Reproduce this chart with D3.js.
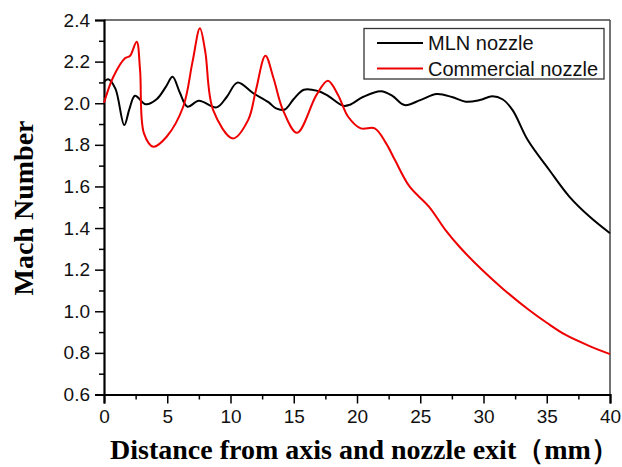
<!DOCTYPE html>
<html><head><meta charset="utf-8">
<script src="https://cdn.jsdelivr.net/npm/d3@7"></script>
<style>body{margin:0;background:#fff}svg{display:block}</style>
</head><body>
<svg id="c" width="622" height="467"></svg>
<script>
const seriesNames = ["MLN nozzle", "Commercial nozzle"];
const seriesColors = ["#000000", "#ee0000"];
const mlnX = [0, 0.34, 0.9, 1.6, 2.0, 2.45, 3.3, 4.16, 4.9, 5.42, 6.0, 6.6, 7.5, 8.9, 9.7, 10.55, 11.8, 13.0, 13.6, 14.3, 15.0, 15.8, 16.9, 17.6, 18.9, 19.4, 20.5, 21.9, 22.8, 23.76, 25.0, 26.3, 27.5, 28.6, 29.7, 30.7, 31.5, 32.3, 33.5, 35.2, 36.8, 38.4, 40];
const mlnY = [2.103, 2.115, 2.07, 1.895, 1.97, 2.036, 1.995, 2.019, 2.08, 2.127, 2.05, 1.983, 2.012, 1.98, 2.03, 2.099, 2.048, 2.005, 1.975, 1.97, 2.02, 2.065, 2.059, 2.04, 1.988, 1.992, 2.031, 2.058, 2.035, 1.991, 2.015, 2.044, 2.03, 2.007, 2.015, 2.033, 2.019, 1.967, 1.823, 1.679, 1.55, 1.454, 1.375];
const comX = [0, 0.74, 1.66, 2.05, 2.58, 2.85, 3.16, 3.9, 4.95, 6.26, 7.0, 7.58, 8.0, 8.63, 10.2, 11.4, 12.0, 12.76, 13.4, 14.15, 15.26, 16.8, 17.7, 18.5, 19.3, 20.3, 21.4, 22.3, 23.0, 24.15, 25.7, 27.0, 28.1, 29.9, 31.5, 33.6, 35.0, 36.5, 38.3, 40];
const comY = [2.002, 2.127, 2.216, 2.227, 2.296, 2.16, 1.855, 1.791, 1.839, 1.983, 2.2, 2.36, 2.25, 1.967, 1.831, 1.92, 2.06, 2.228, 2.12, 1.967, 1.858, 2.04, 2.108, 2.04, 1.935, 1.879, 1.879, 1.807, 1.727, 1.6, 1.502, 1.39, 1.31, 1.198, 1.11, 1.006, 0.945, 0.886, 0.835, 0.794];
const xTicks = [0, 5, 10, 15, 20, 25, 30, 35, 40];
const yTicks = [0.6, 0.8, 1.0, 1.2, 1.4, 1.6, 1.8, 2.0, 2.2, 2.4];
const xTitle = "Distance from axis and nozzle exit（mm）";
const yTitle = "Mach Number";

const svg = d3.select("#c");
const L = 104, R = 610, T = 20, B = 394.5;
const x = d3.scaleLinear().domain([0, 40]).range([L, R]);
const y = d3.scaleLinear().domain([0.6, 2.4]).range([B, T]);

// frame top/right
svg.append("line").attr("x1", L).attr("x2", R).attr("y1", T).attr("y2", T).attr("stroke", "#444").attr("stroke-width", 1.5);
svg.append("line").attr("x1", R).attr("x2", R).attr("y1", T).attr("y2", B).attr("stroke", "#444").attr("stroke-width", 1.5);

const tickFont = "'Liberation Sans', Arial, sans-serif";
const yAx = svg.append("g").attr("transform", `translate(${L},0)`)
  .call(d3.axisLeft(y).tickValues(yTicks).tickFormat(d3.format(".1f")).tickSize(9).tickPadding(5));
const yMinor = svg.append("g").attr("transform", `translate(${L},0)`)
  .call(d3.axisLeft(y).tickValues(d3.range(0.7, 2.4, 0.2)).tickFormat("").tickSize(5));
const xAx = svg.append("g").attr("transform", `translate(0,${B})`)
  .call(d3.axisBottom(x).tickValues(xTicks).tickFormat(d3.format("d")).tickSize(9).tickPadding(6));
const xMinor = svg.append("g").attr("transform", `translate(0,${B})`)
  .call(d3.axisBottom(x).tickValues(d3.range(2.5, 40, 5)).tickFormat("").tickSize(5));
[yAx, yMinor, xAx, xMinor].forEach(g => {
  g.select(".domain").attr("stroke", "#000").attr("stroke-width", 2.2);
  g.selectAll(".tick line").attr("stroke", "#000").attr("stroke-width", 1.5);
  g.selectAll(".tick text").attr("font-family", tickFont).attr("font-size", 19).attr("fill", "#111");
});
yMinor.select(".domain").remove();
xMinor.select(".domain").remove();

const line = d3.line().x(d => x(d[0])).y(d => y(d[1])).curve(d3.curveCatmullRom.alpha(0.5));
const mln = mlnX.map((v, i) => [v, mlnY[i]]);
const com = comX.map((v, i) => [v, comY[i]]);
svg.append("path").attr("d", line(mln)).attr("fill", "none").attr("stroke", seriesColors[0]).attr("stroke-width", 2);
svg.append("path").attr("d", line(com)).attr("fill", "none").attr("stroke", seriesColors[1]).attr("stroke-width", 2);

const lg = svg.append("g");
lg.append("rect").attr("x", 364).attr("y", 28.5).attr("width", 240).attr("height", 50.5).attr("fill", "#fff").attr("stroke", "#333").attr("stroke-width", 1.3);
seriesNames.forEach((n, i) => {
  const yy = 43 + i * 25.5;
  lg.append("line").attr("x1", 377).attr("x2", 423).attr("y1", yy).attr("y2", yy).attr("stroke", seriesColors[i]).attr("stroke-width", 2);
  lg.append("text").attr("x", 428).attr("y", yy + 7).attr("font-family", tickFont).attr("font-size", 20).attr("fill", "#111").text(n);
});

const titleFont = "'Liberation Serif', 'Times New Roman', serif";
svg.append("text").attr("x", 110).attr("y", 459).attr("font-family", titleFont).attr("font-weight", "bold").attr("font-size", 28).attr("fill", "#000").text(xTitle);
svg.append("text").attr("transform", "translate(33,208) rotate(-90)").attr("text-anchor", "middle").attr("font-family", titleFont).attr("font-weight", "bold").attr("font-size", 28).attr("fill", "#000").text(yTitle);
</script>
</body></html>
